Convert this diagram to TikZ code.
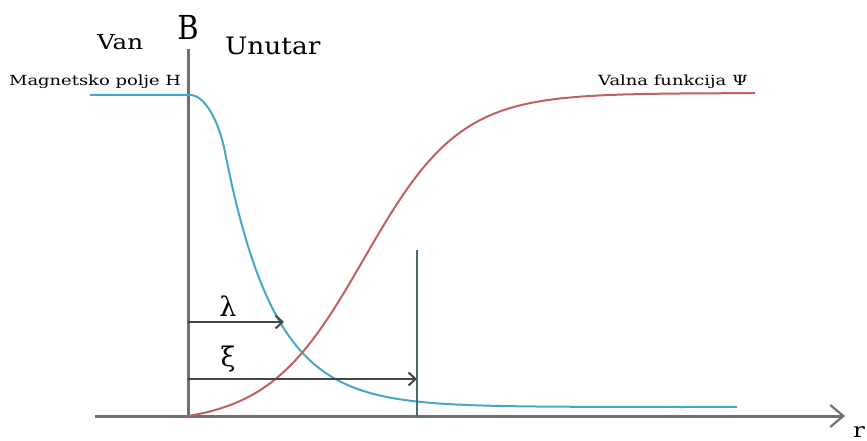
\documentclass[tikz,border=0pt]{standalone}
\usepackage{graphicx}
\usepackage{fontspec}
\setmainfont{DejaVu Serif}
\usetikzlibrary{arrows.meta}

\definecolor{fieldblue}{RGB}{70,168,200}
\definecolor{wavered}{RGB}{192,96,96}
\definecolor{markgreen}{RGB}{70,112,98}
\definecolor{axisgray}{RGB}{112,112,112}
\definecolor{lengray}{RGB}{70,70,70}

\newcommand{\wide}[2]{\scalebox{#1}[1]{#2}}

\begin{document}
\begin{tikzpicture}[
  x=1pt, y=-1pt,
  axis/.style={draw=axisgray, line width=3pt},
  curve/.style={line width=2pt},
  len/.style={draw=lengray, line width=2pt, -{Straight Barb[length=7pt, width=13pt, line width=2pt]}},
  lbl/.style={inner sep=0pt, font=\fontsize{14}{16}\selectfont},
  big/.style={inner sep=0pt, font=\fontsize{20.5}{24}\selectfont},
  sym/.style={inner sep=0pt, font=\fontsize{27}{30}\selectfont},
]
\useasboundingbox (0,0) rectangle (867,441);
\clip (0,0) rectangle (867,441);

% === Axes ===
\coordinate (O) at (188,417);
\coordinate (ytop) at (188,49);
\coordinate (xleft) at (95,416);
\coordinate (xright) at (845,416);
\draw[axis] (O) -- (ytop);
\draw[axis, -{Straight Barb[length=13pt, width=22pt, line width=2.2pt]}] (xleft) -- (xright);

% === Labels ===
\node[big, anchor=base west] (van) at (97,50) {\wide{1.2}{Van}};
\node[big, font=\fontsize{33}{36}\selectfont, anchor=base] (B) at (188,39.5) {\wide{0.88}{B}};
\node[big, font=\fontsize{24}{28}\selectfont, anchor=base west] (unutar) at (225,55) {\wide{1.1}{Unutar}};
\node[lbl, anchor=base west] (field) at (9,86) {\wide{1.28}{Magnetsko polje H}};
\node[lbl, anchor=base west] (wave) at (598,86) {\wide{1.28}{Valna funkcija Ψ}};
\node[big, anchor=base west] (r) at (853,437) {\wide{1.2}{r}};

% === Curves ===
% field: flat outside, decays inside
\draw[curve, fieldblue] (90,95) -- (190,95) .. controls (205,95) and (219,121.4) .. (225,152)
  -- plot[domain=225:737, samples=90, smooth] (\x, {407-254.9*exp(-(\x-225)/50)});
% wave function: rises from zero at the boundary
\draw[curve, wavered]
  plot[domain=188:755, samples=120, smooth] (\x, {93+323*(1-(1/(1+exp(-(\x-364)/48))-0.025)/0.975)});

% === Lengths ===
\coordinate (xi0) at (417,250);
\coordinate (xi1) at (417,417);
\draw[markgreen, line width=1.8pt] (xi0) -- (xi1);

\coordinate (lamA) at (188,322);
\coordinate (lamB) at (284,322);
\draw[len] (lamA) -- (lamB);
\node[sym, anchor=base] (lam) at (228,316) {λ};

\coordinate (xiA) at (188,379);
\coordinate (xiB) at (417,379);
\draw[len] (xiA) -- (xiB);
\node[sym, anchor=base] (xi) at (228,366) {ξ};

\end{tikzpicture}
\end{document}
